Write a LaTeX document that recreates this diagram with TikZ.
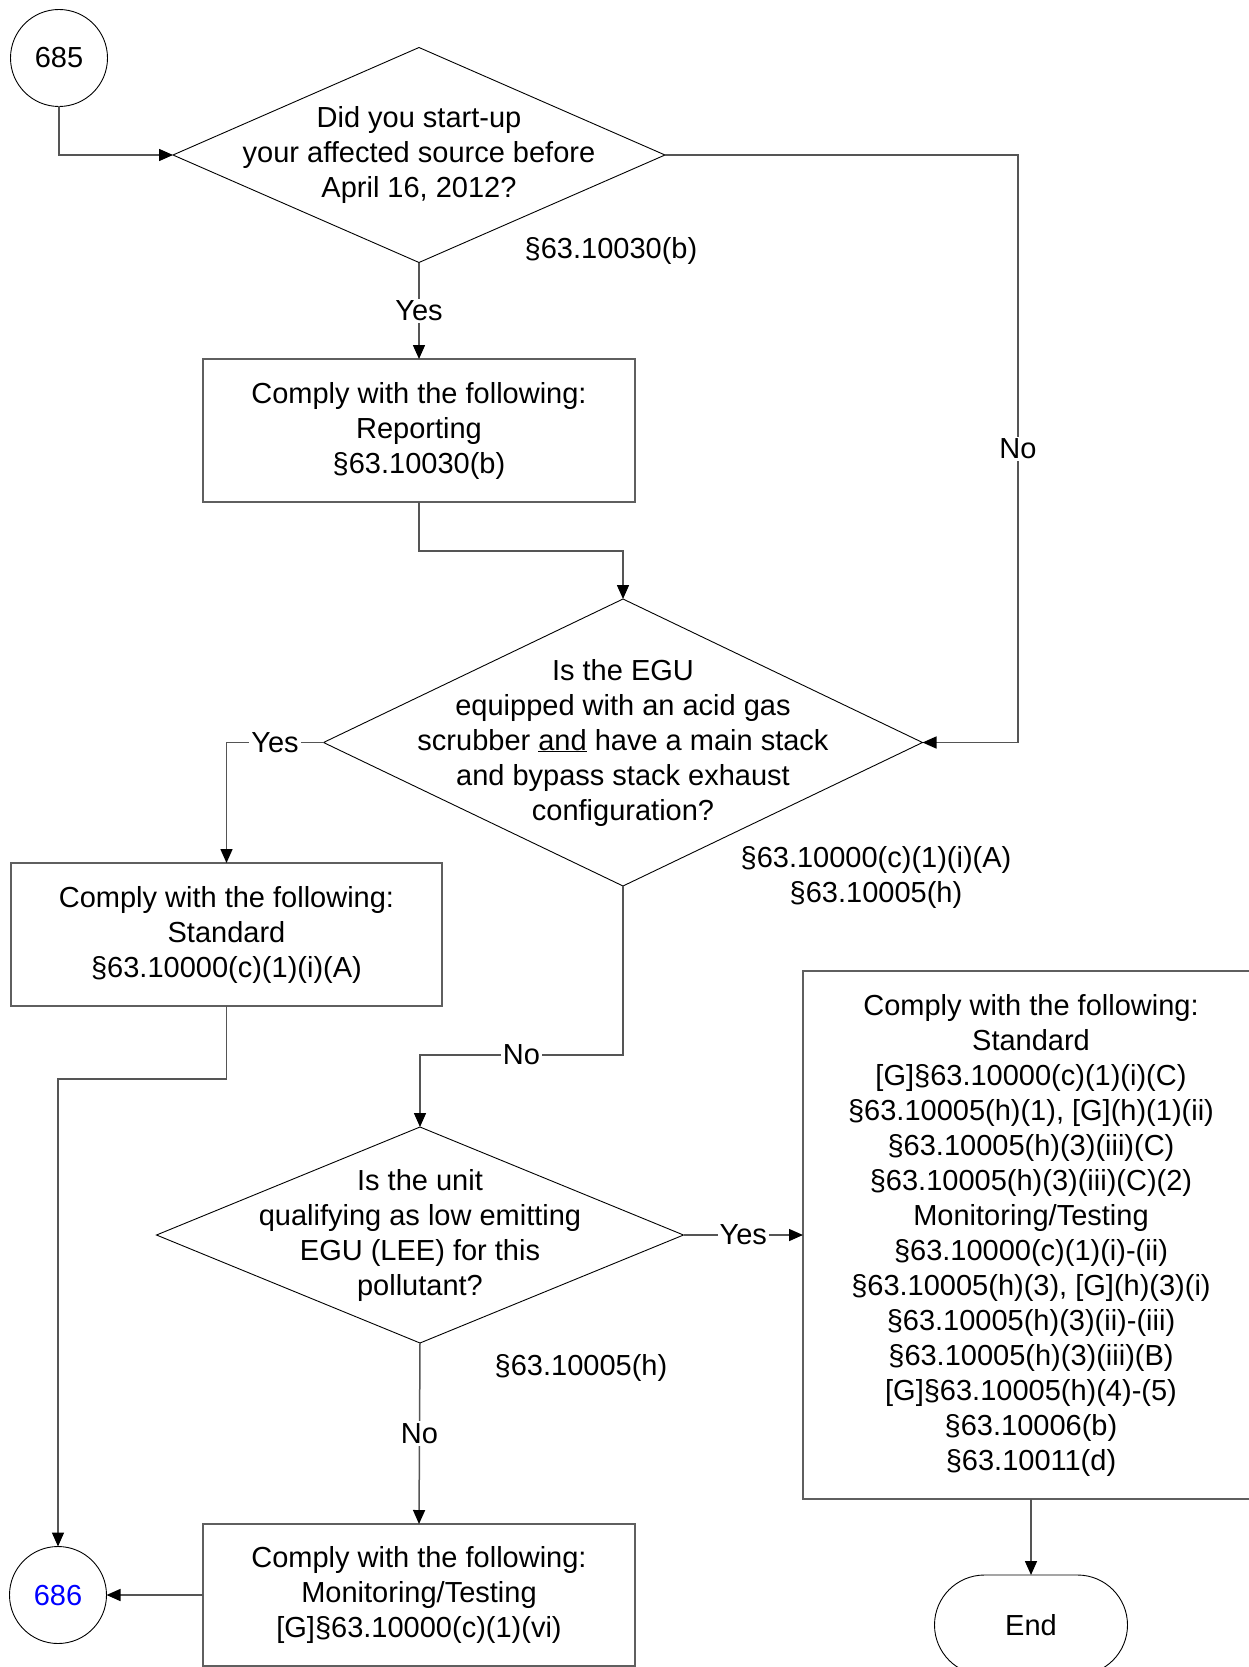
\documentclass[tikz,border=0pt]{standalone}
\usepackage{fontspec}
\setmainfont{Liberation Sans}
\usetikzlibrary{shapes.geometric,arrows.meta}
\definecolor{linegray}{RGB}{85,85,85}
\definecolor{boxgray}{RGB}{95,95,95}
\begin{document}
\begin{tikzpicture}[x=1pt,y=-1pt,
  txt/.style={font=\fontsize{29}{35}\selectfont, align=center, inner sep=0pt},
  box/.style={txt, draw=boxgray, line width=1.6pt, outer sep=0pt},
  dia/.style={diamond, draw=black, line width=0.9pt, inner sep=0pt, outer sep=0pt},
  circ/.style={txt, circle, draw=black, line width=0.9pt, minimum size=97pt, outer sep=0pt},
  conn/.style={draw=linegray, line width=1.5pt, -{Triangle[length=14pt,width=12pt,black]}},
  lbl/.style={txt, fill=white, inner sep=2pt, text=black},
]
\useasboundingbox (0,0) rectangle (1248,1667);

% nodes
\node[circ] (c685) at (59,58) {685};
\node[dia, minimum width=492pt, minimum height=215pt] (d1) at (419,155) {};
\node[txt] (t1) at (d1) {Did you start-up\\your affected source before\\April 16, 2012?};
\node[txt] (r1) at (611,251) {§63.10030(b)};
\node[box, minimum width=432pt, minimum height=143pt] (b1) at (419,430.5) {Comply with the following:\\Reporting\\§63.10030(b)};

\node[dia, minimum width=599pt, minimum height=287pt] (d2) at (623,742.5) {};
\node[txt] (t2) at (d2) {Is the EGU\\equipped with an acid gas\\scrubber \underline{and} have a main stack\\and bypass stack exhaust\\configuration?};
\node[txt] (r2) at (876,877) {§63.10000(c)(1)(i)(A)\\§63.10005(h)};
\node[box, minimum width=431pt, minimum height=143pt] (b2) at (226.5,934.5) {Comply with the following:\\Standard\\§63.10000(c)(1)(i)(A)};

\node[dia, minimum width=527pt, minimum height=216pt] (d3) at (420,1235) {};
\node[txt] (t3) at (d3) {Is the unit\\qualifying as low emitting\\EGU (LEE) for this\\pollutant?};
\node[txt] (r3) at (581,1368) {§63.10005(h)};

\node[box, minimum width=456pt, minimum height=528pt] (b4) at (1031,1235) {Comply with the following:\\Standard\\{[G]}§63.10000(c)(1)(i)(C)\\§63.10005(h)(1), [G](h)(1)(ii)\\§63.10005(h)(3)(iii)(C)\\§63.10005(h)(3)(iii)(C)(2)\\Monitoring/Testing\\§63.10000(c)(1)(i)-(ii)\\§63.10005(h)(3), [G](h)(3)(i)\\§63.10005(h)(3)(ii)-(iii)\\§63.10005(h)(3)(iii)(B)\\{[G]}§63.10005(h)(4)-(5)\\§63.10006(b)\\§63.10011(d)};

\node[box, minimum width=432pt, minimum height=142pt] (b3) at (419,1595) {Comply with the following:\\Monitoring/Testing\\{[G]}§63.10000(c)(1)(vi)};
\node[circ, text=blue] (c686) at (58,1595) {686};
\node[txt, draw=black, line width=0.9pt, rounded corners=50pt, minimum width=193pt, minimum height=100pt, outer sep=0pt] (end) at (1031,1625) {End};

% connectors
\coordinate (k1) at (1018,155);
\draw[conn] (c685.south) |- (d1.west);
\draw[conn] (d1.south) -- node[lbl]{Yes} (b1.north);
\draw[conn] (d1.east) -- (k1) |- node[lbl,pos=0.25]{No} (d2.east);
\draw[conn] (b1.south) -- ++(0,49) -| (d2.north);
\draw[conn] (d2.west) -| node[lbl,pos=0.25]{Yes} (b2.north);
\draw[conn] (d2.south) -- ++(0,169) -| node[lbl,pos=0.25]{No} (d3.north);
\draw[conn] (d3.east) -- node[lbl]{Yes} (b4.west);
\draw[conn] (d3.south) -- node[lbl]{No} (b3.north);
\draw[conn] (b2.south) -- ++(0,73) -| (c686.north);
\draw[conn] (b3.west) -- (c686.east);
\draw[conn] (b4.south) -- (end.north);
\end{tikzpicture}
\end{document}
